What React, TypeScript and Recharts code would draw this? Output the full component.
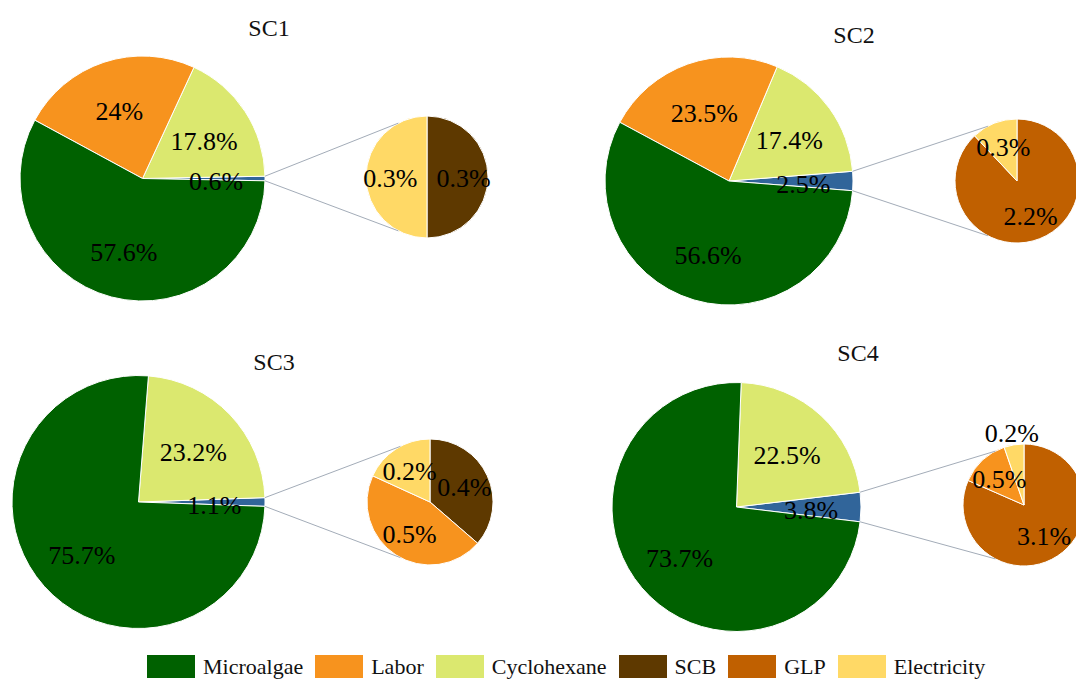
import { Cell, Pie, PieChart } from "recharts";

const SCENARIOS = ["SC1", "SC2", "SC3", "SC4"];

// cost shares shown in the large pies (%)
const MICROALGAE = [57.6, 56.6, 75.7, 73.7];
const LABOR = [24, 23.5, 0, 0];
const CYCLOHEXANE = [17.8, 17.4, 23.2, 22.5];

// small items broken out in the second pie (%)
const SCB = [0.3, 0, 0.4, 0];
const GLP = [0, 2.2, 0, 3.1];
const LABOR_MINOR = [0, 0, 0.5, 0.5];
const ELECTRICITY = [0.3, 0.3, 0.2, 0.2];

const LEGEND_ITEMS = ["Microalgae", "Labor", "Cyclohexane", "SCB", "GLP", "Electricity"];

const COLORS: Record<string, string> = {
  Microalgae: "#006100",
  Labor: "#F7931E",
  Cyclohexane: "#DBE86F",
  SCB: "#5E3900",
  GLP: "#C06000",
  Electricity: "#FFD966",
  Other: "#31659A",
};

// where each scenario sits on the page
const PANELS = [
  { cx: 142.5, cy: 178.5, r: 122.5, sx: 427, sy: 177, sr: 61, tx: 269, ty: 36 },
  { cx: 729, cy: 181, r: 124, sx: 1017, sy: 181, sr: 62, tx: 854, ty: 43 },
  { cx: 138.5, cy: 502, r: 126.5, sx: 430, sy: 502, sr: 63, tx: 274, ty: 370 },
  { cx: 736.5, cy: 507, r: 124.5, sx: 1024, sy: 505, sr: 61, tx: 858, ty: 361 },
];

const FONT = '"Liberation Serif", "Times New Roman", serif';
const RAD = Math.PI / 180;
const CONNECTOR_ANGLE = 118;

const round1 = (v: number) => Math.round(v * 10) / 10;

const polar = (cx: number, cy: number, r: number, a: number) => ({
  x: cx + r * Math.cos(-a * RAD),
  y: cy + r * Math.sin(-a * RAD),
});

function minorData(i: number) {
  return [
    { name: "SCB", value: SCB[i] },
    { name: "GLP", value: GLP[i] },
    { name: "Labor", value: LABOR_MINOR[i] },
    { name: "Electricity", value: ELECTRICITY[i] },
  ].filter((d) => d.value > 0);
}

function mainData(i: number) {
  const other = round1(minorData(i).reduce((s, d) => s + d.value, 0));
  return [
    { name: "Other", value: other },
    { name: "Cyclohexane", value: CYCLOHEXANE[i] },
    { name: "Labor", value: LABOR[i] },
    { name: "Microalgae", value: MICROALGAE[i] },
  ].filter((d) => d.value > 0);
}

// half the sweep of the "Other" slice, so it sits centred on the right
function otherHalfAngle(i: number) {
  const data = mainData(i);
  const total = data.reduce((s, d) => s + d.value, 0);
  return (data[0].value / total) * 360 / 2;
}

const renderLabel = (secondary: boolean) => (p: any) => {
  const span = p.percent * 360;
  const k = secondary && span < 25 ? 1.2 : 0.6;
  const { x, y } = polar(p.cx, p.cy, p.outerRadius * k, p.midAngle);
  return (
    <text
      x={x}
      y={y + (secondary ? 1 : 3)}
      textAnchor="middle"
      dominantBaseline="central"
      fontSize={26}
      fontFamily={FONT}
      fill="#000"
    >
      {`${p.value}%`}
    </text>
  );
};

export default function App() {
  return (
    <div
      style={{
        position: "absolute",
        left: 0,
        top: 0,
        width: 1076,
        height: 679,
        background: "#fff",
        fontFamily: FONT,
      }}
    >
      <PieChart width={1076} height={640} margin={{ top: 0, right: 0, bottom: 0, left: 0 }}>
        {SCENARIOS.map((sc, i) => {
          const p = PANELS[i];
          const half = otherHalfAngle(i);
          return (
            <Pie
              key={`${sc}-main`}
              data={mainData(i)}
              dataKey="value"
              nameKey="name"
              cx={p.cx}
              cy={p.cy}
              outerRadius={p.r}
              startAngle={-half}
              endAngle={360 - half}
              stroke="#fff"
              strokeWidth={1}
              label={renderLabel(false)}
              labelLine={false}
              isAnimationActive={false}
            >
              {mainData(i).map((d) => (
                <Cell key={d.name} fill={COLORS[d.name]} />
              ))}
            </Pie>
          );
        })}
        {SCENARIOS.map((sc, i) => {
          const p = PANELS[i];
          return (
            <Pie
              key={`${sc}-minor`}
              data={minorData(i)}
              dataKey="value"
              nameKey="name"
              cx={p.sx}
              cy={p.sy}
              outerRadius={p.sr}
              startAngle={90}
              endAngle={-270}
              stroke="#fff"
              strokeWidth={1}
              label={renderLabel(true)}
              labelLine={false}
              isAnimationActive={false}
            >
              {minorData(i).map((d) => (
                <Cell key={d.name} fill={COLORS[d.name]} />
              ))}
            </Pie>
          );
        })}
      </PieChart>

      {/* titles and the lines joining each "Other" slice to its breakdown */}
      <svg
        width={1076}
        height={640}
        style={{ position: "absolute", left: 0, top: 0, pointerEvents: "none" }}
      >
        {SCENARIOS.map((sc, i) => {
          const p = PANELS[i];
          const half = otherHalfAngle(i);
          const a1 = polar(p.cx, p.cy, p.r, half);
          const a2 = polar(p.sx, p.sy, p.sr, CONNECTOR_ANGLE);
          const b1 = polar(p.cx, p.cy, p.r, -half);
          const b2 = polar(p.sx, p.sy, p.sr, -CONNECTOR_ANGLE);
          return (
            <g key={sc}>
              <line x1={a1.x} y1={a1.y} x2={a2.x} y2={a2.y} stroke="#A3ACB8" strokeWidth={1} />
              <line x1={b1.x} y1={b1.y} x2={b2.x} y2={b2.y} stroke="#A3ACB8" strokeWidth={1} />
              <text
                x={p.tx}
                y={p.ty}
                textAnchor="middle"
                fontSize={24}
                fontFamily={FONT}
                fill="#111"
              >
                {sc}
              </text>
            </g>
          );
        })}
      </svg>

      <div
        style={{
          position: "absolute",
          left: 147,
          top: 655,
          height: 23,
          display: "flex",
          alignItems: "center",
          fontSize: 22,
          color: "#111",
          whiteSpace: "nowrap",
        }}
      >
        {LEGEND_ITEMS.map((name) => (
          <div key={name} style={{ display: "flex", alignItems: "center", marginRight: 12 }}>
            <span
              style={{
                display: "inline-block",
                width: 48,
                height: 23,
                background: COLORS[name],
                marginRight: 8,
              }}
            />
            <span>{name}</span>
          </div>
        ))}
      </div>
    </div>
  );
}
